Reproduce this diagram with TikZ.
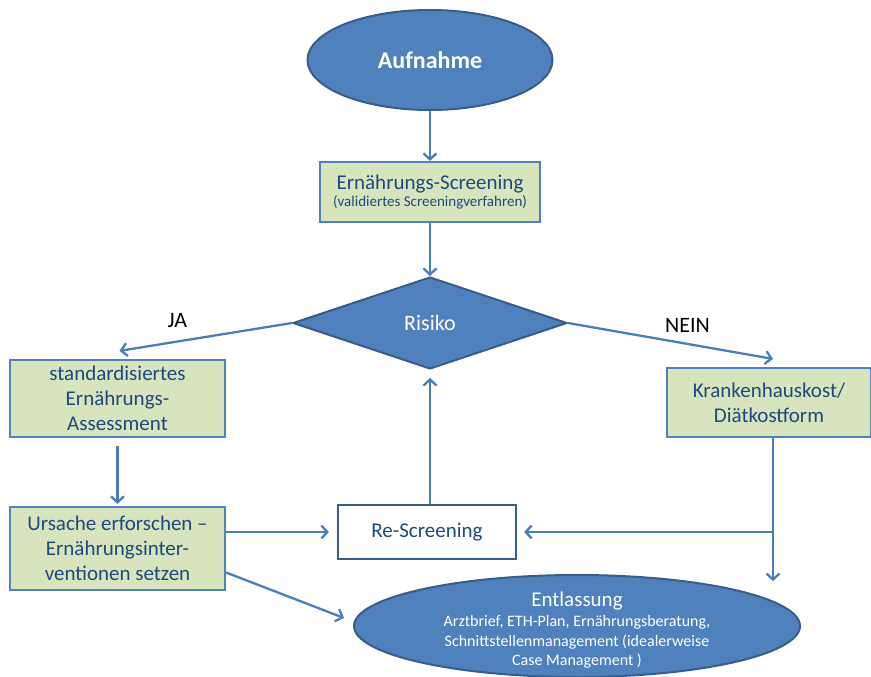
\documentclass[tikz,border=0pt]{standalone}
\usepackage{fontspec}
\setmainfont{Carlito}
\usetikzlibrary{shapes.geometric, positioning, arrows.meta, calc}
\definecolor{officeblue}{HTML}{4F81BD}
\definecolor{rimblue}{HTML}{385D8A}
\definecolor{inkblue}{HTML}{1F497D}
\definecolor{boxgreen}{HTML}{D7E4BD}
\definecolor{linkblue}{HTML}{4A7EBB}
\tikzset{
	>={Straight Barb[length=6pt,width=13pt]},
	flow/.style={->, draw=linkblue, line width=2.3pt},
	terminal/.style={ellipse, draw=rimblue, line width=2pt, fill=officeblue, text=white},
	decision/.style={diamond, aspect=3, inner sep=1pt, draw=rimblue, line width=2pt, fill=officeblue, text=white, font=\fontsize{22}{26}\selectfont},
	greenbox/.style={rectangle, inner sep=2pt, draw=officeblue, line width=2.2pt, fill=boxgreen, text=inkblue, align=center, font=\fontsize{21}{25}\selectfont},
	plainbox/.style={rectangle, draw=rimblue, line width=2.2pt, fill=white, text=inkblue, font=\fontsize{21}{25}\selectfont},
	answer/.style={text=black, font=\fontsize{22}{26}\selectfont},
}

\begin{document}
\begin{tikzpicture}[x=1pt, y=-1pt]
	\useasboundingbox (0,0) rectangle (871,677);

	\node[terminal, minimum width=245pt, minimum height=100pt, font=\bfseries\fontsize{24}{28}\selectfont] (aufnahme) at (430,60) {Aufnahme};
	\node[greenbox, minimum width=220pt, minimum height=60pt] (screening) at (430,192) {Ernährungs-Screening\\[-8pt]{\fontsize{15}{17}\selectfont (validiertes Screeningverfahren)}};
	\node[decision, minimum width=274pt, minimum height=92pt] (risiko) at (430,323) {Risiko};
	\node[greenbox, minimum width=215pt, minimum height=77pt] (assessment) at (117.5,398.5) {standardisiertes\\Ernährungs-\\Assessment};
	\node[greenbox, minimum width=215pt, minimum height=83pt] (ursache) at (117.5,548.5) {Ursache erforschen –\\Ernährungsinter-\\ventionen setzen};
	\node[plainbox, minimum width=178pt, minimum height=54pt] (rescreening) at (427,532) {Re-Screening};
	\node[greenbox, minimum width=204pt, minimum height=69pt] (kost) at (769,402.5) {Krankenhauskost/\\Diätkostform};
	\node[terminal, minimum width=446pt, minimum height=102pt,
		label={[text=white, align=center, yshift=-4pt, font=\fontsize{16}{19.5}\selectfont]center:{\fontsize{21}{24}\selectfont Entlassung}\\[1pt]Arztbrief, ETH-Plan, Ernährungsberatung,\\Schnittstellenmanagement (idealerweise\\Case Management )}] (entlassung) at (577,626) {};

	\coordinate (kostout) at ([xshift=4pt, yshift=-143pt]kost.south);

	\draw[flow] (aufnahme) -- (screening);
	\draw[flow] (screening) -- (risiko);
	\draw[flow] (risiko.west) -- ([xshift=2pt, yshift=8pt]assessment.north) node[answer, pos=0.665, yshift=21pt] (ja) {JA};
	\draw[flow] (risiko.east) -- ([xshift=4pt, yshift=8pt]kost.north) node[answer, pos=0.583, yshift=18pt] (nein) {NEIN};
	\draw[flow] ([yshift=-8pt]assessment.south) -- ([yshift=2pt]ursache.north);
	\draw[flow] (ursache.east |- rescreening.west) -- ([xshift=-8pt]rescreening.west);
	\draw[flow] (rescreening.north -| risiko.south) -- ([yshift=-8pt]risiko.south);
	\draw[flow] ([xshift=4pt]kost.south) -- (kostout);
	\draw[flow] (kostout |- rescreening.east) -- ([xshift=7pt]rescreening.east);
	\draw[flow] ([yshift=-24pt]ursache.east) -- ([shift={(-9pt,8pt)}]entlassung.west);

\end{tikzpicture}
\end{document}
